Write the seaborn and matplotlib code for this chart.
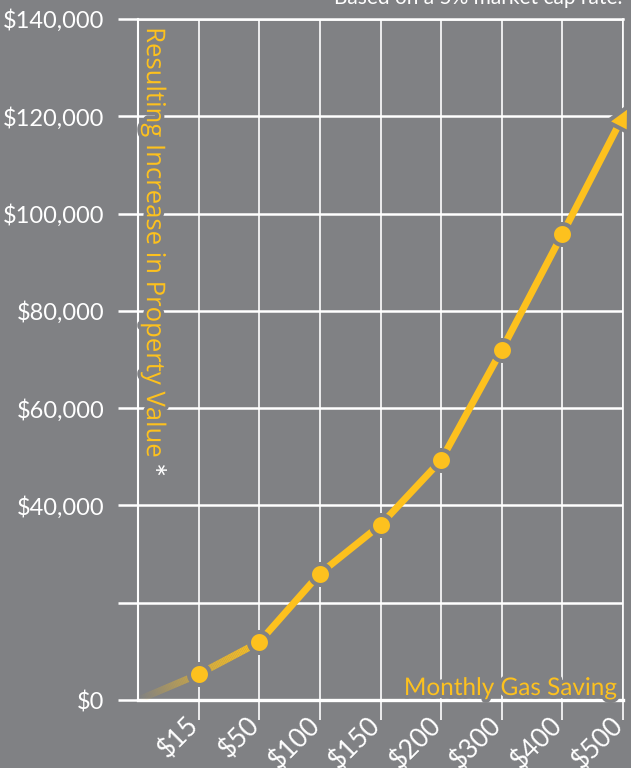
import numpy as np
import pandas as pd
import matplotlib.pyplot as plt
import matplotlib.colors as mcolors
import matplotlib.patheffects as pe
import seaborn as sns
from matplotlib.collections import LineCollection
from matplotlib.markers import MarkerStyle
from matplotlib.transforms import Affine2D, ScaledTranslation

# data
savings = ['$15', '$50', '$100', '$150', '$200', '$300', '$400', '$500']
value_increase = [5300, 11900, 26000, 36000, 49300, 72000, 95800, 120000]
y_ticks = [0, 20000, 40000, 60000, 80000, 100000, 120000, 140000]
y_labels = ['$0', '', '$40,000', '$60,000', '$80,000', '$100,000', '$120,000', '$140,000']

bg = '#808184'
gold = '#fdc11e'

sns.set_theme(style='white', rc={'axes.facecolor': bg, 'figure.facecolor': bg})
plt.rcParams['font.family'] = ['Lato', 'DejaVu Sans']

df = pd.DataFrame({'pos': np.arange(1, len(savings) + 1), 'value': value_increase, 'saving': savings})

fig = plt.figure(figsize=(6.31, 7.68), dpi=100)
ax = fig.add_axes([138 / 631, 68 / 768, 485 / 631, 681 / 768])
ax.set_xlim(0, 8)
ax.set_ylim(0, 140000)

# grid + spines in white
ax.set_axisbelow(True)
ax.set_xticks(df['pos'])
ax.set_xticklabels(savings, rotation=45, ha='right', va='top', rotation_mode='anchor')
ax.set_yticks(y_ticks)
ax.set_yticklabels(y_labels)
ax.grid(axis='y', color='white', lw=1.8)
ax.grid(axis='x', color='white', lw=1.2)
for side, lw in [('left', 1.5), ('bottom', 2.4), ('top', 1.8), ('right', 1.2)]:
    ax.spines[side].set_visible(True)
    ax.spines[side].set_color('white')
    ax.spines[side].set_linewidth(lw)
ax.tick_params(axis='y', left=True, length=14.4, width=1.8, color='white', pad=10,
               labelsize=17, labelcolor='white')
ax.tick_params(axis='x', bottom=True, length=14.4, width=1.2, color='white', pad=0,
               labelsize=19, labelcolor='white')
shift = ScaledTranslation(-13 / 100, 8 / 100, fig.dpi_scale_trans)
for lab in ax.get_xticklabels():
    lab.set_transform(lab.get_transform() + shift)


def fade_segment(p0, p1, a0, a1, n=40):
    # colour gradient along one segment (style only)
    t = np.linspace(0, 1, n + 1)
    xs = p0[0] + (p1[0] - p0[0]) * t
    ys = p0[1] + (p1[1] - p0[1]) * t
    pts = np.column_stack([xs, ys]).reshape(-1, 1, 2)
    segs = np.concatenate([pts[:-1], pts[1:]], axis=1)
    rgb = mcolors.to_rgb(gold)
    cols = [(*rgb, a) for a in np.linspace(a0, a1, n)]
    lc = LineCollection(segs, colors=cols, linewidths=5, capstyle='butt', zorder=3)
    ax.add_collection(lc)


fade_segment((0, 0), (1, value_increase[0]), 0.0, 0.6)
fade_segment((1, value_increase[0]), (2, value_increase[1]), 0.65, 1.0)

sns.lineplot(data=df.iloc[1:], x='pos', y='value', color=gold, lw=5, ax=ax,
             solid_capstyle='butt', zorder=3)
sns.scatterplot(data=df.iloc[:-1], x='pos', y='value', s=228, color=gold,
                edgecolor=bg, linewidth=2.9, zorder=4, ax=ax, legend=False)

# arrow head at the last point
head = MarkerStyle('^', transform=Affine2D().rotate_deg(-27.2))
ax.scatter(df['pos'].iloc[-1], df['value'].iloc[-1], marker=head, s=300, color=gold,
           edgecolor=bg, linewidth=2.9, zorder=5, clip_on=False)

ax.set_xlabel('')
ax.set_ylabel('')

stroke = [pe.withStroke(linewidth=5, foreground=bg)]
ax.text(0.006, 0.988, 'Resulting Increase in Property Value', transform=ax.transAxes,
        rotation=-90, ha='left', va='top', color=gold, fontsize=18.5, fontweight='medium',
        family=['Open Sans', 'DejaVu Sans'], path_effects=stroke, zorder=6)
ax.text(0.02, 0.336, '*', transform=ax.transAxes, rotation=-90, ha='center', va='center',
        color='white', fontsize=24, zorder=6)
ax.text(0.9876, 0.0073, 'Monthly Gas Saving', transform=ax.transAxes, ha='right', va='baseline',
        color=gold, fontsize=17.5, path_effects=stroke, zorder=6)
fig.text(0.986, 1 - 4 / 768, 'Based on a 5% market cap rate.', ha='right', va='baseline',
         color='white', fontsize=15)

fig.savefig('out.png', dpi=100, facecolor=bg)
